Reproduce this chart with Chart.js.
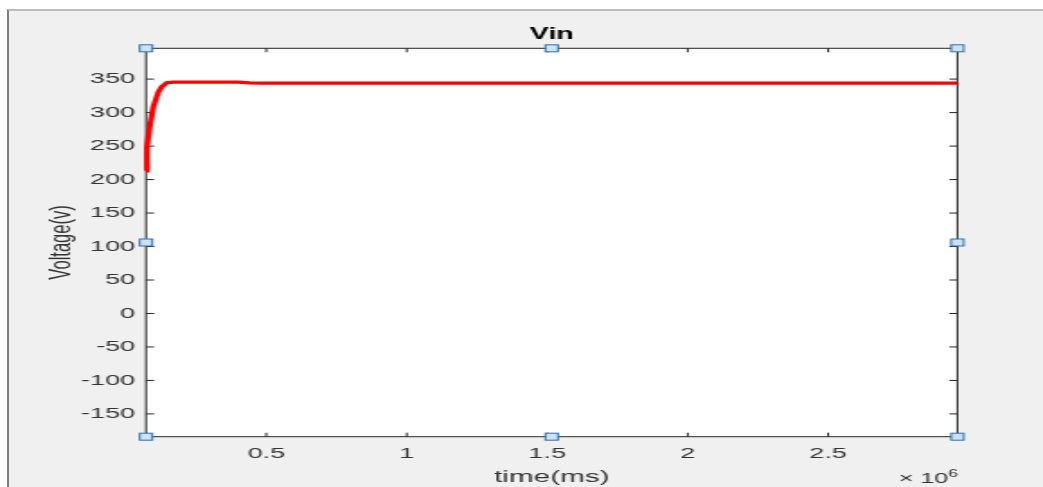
<!DOCTYPE html>
<html>
<head>
<meta charset="utf-8">
<script src="https://cdn.jsdelivr.net/npm/chart.js@4/dist/chart.umd.min.js"></script>
<style>
  html, body { margin: 0; padding: 0; background: #ffffff; overflow: hidden; }
  #frame {
    position: absolute; left: 7px; top: 9px; width: 1036px; height: 478px;
    background: #f0f0f0;
    border-left: 2px solid #7d7d7d;
    border-top: 2px solid #bcbcbc;
  }
  /* the figure is drawn narrow and widened, so glyphs come out broad */
  #wrap {
    position: absolute; left: 0; top: 0;
    transform: scaleX(1.7983); transform-origin: 0 0;
  }
</style>
</head>
<body>
<div id="frame"></div>
<div id="wrap"><canvas id="vin" width="580" height="487"></canvas></div>
<script>
// time samples (raw units, axis shows them x 10^6) and input voltage
var timeValues = [72000, 75000, 87000, 98000, 116000, 128000, 146000, 170000, 250000,
                  330000, 400000, 440000, 480000, 700000, 1000000, 1500000, 2000000,
                  2500000, 2960000];
var vinValues = [213, 249, 284, 309, 331, 338.5, 344.5, 345.5, 345.5,
                 345.5, 345.5, 344.5, 344, 344, 344, 344, 344,
                 344, 344];

var xTickValues = [500000, 1000000, 1500000, 2000000, 2500000];
var yTickValues = [-150, -100, -50, 0, 50, 100, 150, 200, 250, 300, 350];

var axisColor = '#262626';
var textColor = '#333333';
var fontFamily = '"Liberation Sans", Arial, Helvetica, sans-serif';

// white axes box with inward ticks on all four sides
var axesBox = {
  id: 'axesBox',
  beforeDatasetsDraw: function(chart) {
    var ctx = chart.ctx;
    var a = chart.chartArea;
    var xs = chart.scales.x, ys = chart.scales.y;
    ctx.save();
    ctx.strokeStyle = axisColor;
    ctx.lineWidth = 1;
    ctx.beginPath();
    xs.ticks.forEach(function(t) {
      var px = xs.getPixelForValue(t.value);
      ctx.moveTo(px, a.bottom); ctx.lineTo(px, a.bottom - 4);
      ctx.moveTo(px, a.top); ctx.lineTo(px, a.top + 4);
    });
    ys.ticks.forEach(function(t) {
      var py = ys.getPixelForValue(t.value);
      ctx.moveTo(a.left, py); ctx.lineTo(a.left + 4.5, py);
      ctx.moveTo(a.right, py); ctx.lineTo(a.right - 4.5, py);
    });
    ctx.stroke();
    ctx.strokeRect(a.left, a.top, a.right - a.left, a.bottom - a.top);
    ctx.restore();
  },
  beforeDraw: function(chart) {
    var a = chart.chartArea;
    chart.ctx.save();
    chart.ctx.fillStyle = '#ffffff';
    chart.ctx.fillRect(a.left, a.top, a.right - a.left, a.bottom - a.top);
    chart.ctx.restore();
  }
};

// selection handles and the x10^6 exponent label
var extras = {
  id: 'extras',
  afterDraw: function(chart) {
    var ctx = chart.ctx;
    var a = chart.chartArea;
    var midX = (a.left + a.right) / 2, midY = (a.top + a.bottom) / 2;
    var spots = [[a.left, a.top], [midX, a.top], [a.right, a.top],
                 [a.left, midY], [a.right, midY],
                 [a.left, a.bottom], [midX, a.bottom], [a.right, a.bottom]];
    ctx.save();
    spots.forEach(function(p) {
      ctx.fillStyle = '#cfe2f4';
      ctx.fillRect(p[0] - 3.5, p[1] - 3.5, 7, 7);
      ctx.strokeStyle = '#2a6fb2';
      ctx.lineWidth = 1;
      ctx.strokeRect(p[0] - 3.5, p[1] - 3.5, 7, 7);
    });

    ctx.fillStyle = textColor;
    ctx.textBaseline = 'alphabetic';
    ctx.textAlign = 'right';
    ctx.font = '10px ' + fontFamily;
    var supW = ctx.measureText('6').width;
    ctx.fillText('6', a.right + 0.5, 477);
    ctx.font = '14px ' + fontFamily;
    ctx.fillText('\u00d7 10', a.right + 0.5 - supW, 483);
    ctx.restore();
  }
};

var chart = new Chart(document.getElementById('vin'), {
  type: 'line',
  data: {
    datasets: [{
      label: 'Vin',
      data: timeValues.map(function(t, i) { return { x: t, y: vinValues[i] }; }),
      borderColor: '#ff0000',
      borderWidth: 3.2,
      pointRadius: 0,
      tension: 0,
      fill: false,
      clip: false
    }]
  },
  options: {
    responsive: false,
    animation: false,
    layout: { padding: { left: 0, right: 47.6, top: 0, bottom: 0 } },
    plugins: {
      legend: { display: false },
      tooltip: { enabled: false },
      title: {
        display: true,
        text: 'Vin',
        fullSize: false,
        color: '#000000',
        font: { family: fontFamily, size: 16, weight: 'bold' },
        padding: { top: 24.7, bottom: 4.4 }
      }
    },
    scales: {
      x: {
        type: 'linear',
        min: 72000,
        max: 2960000,
        grid: { display: false, drawTicks: false },
        border: { display: false },
        afterBuildTicks: function(scale) {
          scale.ticks = xTickValues.map(function(v) { return { value: v }; });
        },
        afterFit: function(scale) { scale.height = 50.3; },
        ticks: {
          color: textColor,
          padding: 8.5,
          maxRotation: 0,
          font: { family: fontFamily, size: 15 },
          callback: function(v) { return String(v / 1000000); }
        },
        title: {
          display: true,
          text: 'time(ms)',
          color: textColor,
          font: { family: fontFamily, size: 16.5 },
          padding: { top: 0, bottom: 0 }
        }
      },
      y: {
        min: -184,
        max: 396,
        grid: { display: false, drawTicks: false },
        border: { display: false },
        afterBuildTicks: function(scale) {
          scale.ticks = yTickValues.map(function(v) { return { value: v }; });
        },
        afterFit: function(scale) { scale.width = 81.2; },
        ticks: {
          color: textColor,
          padding: 6.1,
          font: { family: fontFamily, size: 15 }
        },
        title: {
          display: true,
          text: 'Voltage(v)',
          color: textColor,
          font: { family: fontFamily, size: 16.5 },
          padding: { top: 24.3, bottom: 0 }
        }
      }
    }
  },
  plugins: [axesBox, extras]
});
</script>
</body>
</html>
